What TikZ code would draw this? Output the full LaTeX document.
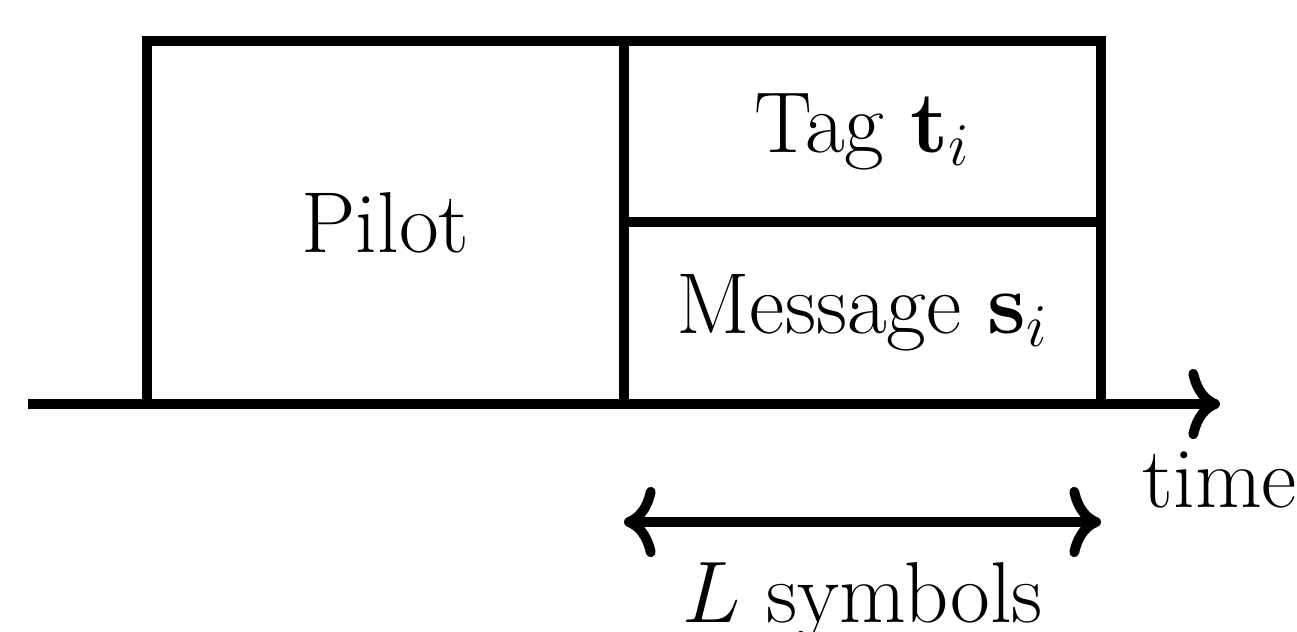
\documentclass[tikz,border=0pt]{standalone}
\usepackage{amsmath}
\usetikzlibrary{arrows.meta}
\tikzset{
  frame/.style={draw, line width=2.8pt, minimum width=4.77cm, inner sep=0pt},
  >={Computer Modern Rightarrow[length=9pt,width=20pt]}
}
\begin{document}
\begin{tikzpicture}[line width=2.8pt, font=\fontsize{24.6}{29}\selectfont]
\useasboundingbox (0,0) rectangle (12.97,6.31);
% Frame
\node[frame, minimum height=3.63cm] (pilot) at (3.855,4.085) {Pilot};
\node[frame, minimum height=1.81cm] (tag) at (8.625,4.995) {Tag $\mathbf{t}_i$};
\node[frame, minimum height=1.82cm] (msg) at (8.625,3.18) {Message $\mathbf{s}_i$};
% Time axis
\coordinate (t0) at (0.28,2.27);
\coordinate (t1) at (12.2,2.27);
\draw[->] (t0) -- (t1) node[below=0.43cm, inner sep=0pt] (time) {time};
% Length
\coordinate (lft) at (6.24,1.09);
\coordinate (rgt) at (11.01,1.09);
\draw[<->] (lft) -- (rgt) node[midway, below=0.36cm, inner sep=0pt] (len) {$L$ symbols};
\end{tikzpicture}
\end{document}
